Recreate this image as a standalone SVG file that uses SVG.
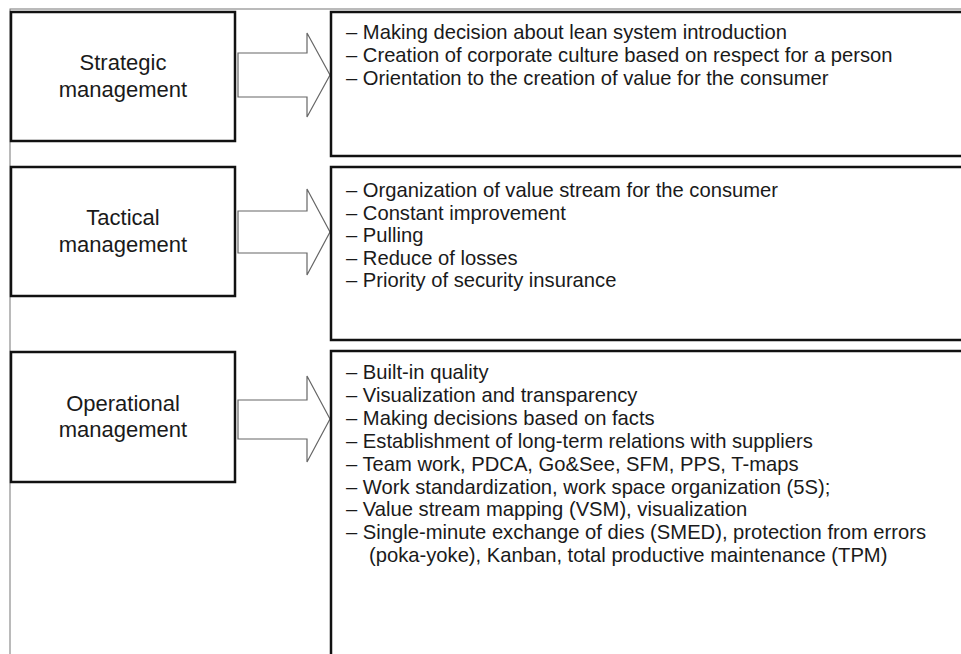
<svg xmlns="http://www.w3.org/2000/svg" width="961" height="654" viewBox="0 0 961 654">
<style>
.frame{fill:none;stroke:#777;stroke-width:1}
.box{fill:#fff;stroke:#111;stroke-width:2.5}
.arrow{fill:#fff;stroke:#666;stroke-width:1.2;stroke-linejoin:miter}
.lbl{font-family:"Liberation Sans",Arial,sans-serif;font-size:22px;fill:#1a1a1a;text-anchor:middle}
.item{font-family:"Liberation Sans",Arial,sans-serif;font-size:20.2px;fill:#1a1a1a}
</style>
<rect width="961" height="654" fill="#fff"/>
<rect class="frame" x="10" y="9" width="1000" height="700"/>
<g id="connectors">
<polygon class="arrow" points="238,53 307,53 307,33 330,75 307,117 307,97 238,97"/>
<polygon class="arrow" points="238,211 307,211 307,189 330,232 307,275 307,253 238,253"/>
<polygon class="arrow" points="238,400 307,400 307,376 330,419 307,462 307,439 238,439"/>
</g>
<g id="strategic">
<rect class="box" x="11" y="12" width="224" height="129"/>
<text class="lbl" x="123" y="70">Strategic</text>
<text class="lbl" x="123" y="97">management</text>
</g>
<g id="tactical">
<rect class="box" x="11" y="167" width="224" height="129"/>
<text class="lbl" x="123" y="225">Tactical</text>
<text class="lbl" x="123" y="252">management</text>
</g>
<g id="operational">
<rect class="box" x="11" y="352" width="224" height="130"/>
<text class="lbl" x="123" y="411">Operational</text>
<text class="lbl" x="123" y="437">management</text>
</g>
<g id="strategic-content">
<rect class="box" x="331" y="12" width="700" height="144"/>
<text class="item" x="346" y="38.5">– Making decision about lean system introduction</text>
<text class="item" x="346" y="61.5">– Creation of corporate culture based on respect for a person</text>
<text class="item" x="346" y="84.5">– Orientation to the creation of value for the consumer</text>
</g>
<g id="tactical-content">
<rect class="box" x="331" y="167" width="700" height="173"/>
<text class="item" x="346" y="197">– Organization of value stream for the consumer</text>
<text class="item" x="346" y="219.5">– Constant improvement</text>
<text class="item" x="346" y="242">– Pulling</text>
<text class="item" x="346" y="264.5">– Reduce of losses</text>
<text class="item" x="346" y="287">– Priority of security insurance</text>
</g>
<g id="operational-content">
<rect class="box" x="331" y="351" width="700" height="400"/>
<text class="item" x="346" y="379">– Built-in quality</text>
<text class="item" x="346" y="401.9">– Visualization and transparency</text>
<text class="item" x="346" y="424.8">– Making decisions based on facts</text>
<text class="item" x="346" y="447.7">– Establishment of long-term relations with suppliers</text>
<text class="item" x="346" y="470.6">– Team work, PDCA, Go&amp;See, SFM, PPS, T-maps</text>
<text class="item" x="346" y="493.5">– Work standardization, work space organization (5S);</text>
<text class="item" x="346" y="516.4">– Value stream mapping (VSM), visualization</text>
<text class="item" x="346" y="539.3">– Single-minute exchange of dies (SMED), protection from errors</text>
<text class="item" x="369" y="562.2">(poka-yoke), Kanban, total productive maintenance (TPM)</text>
</g>
</svg>
